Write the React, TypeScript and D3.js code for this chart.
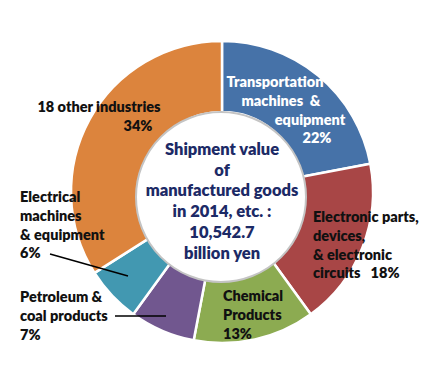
import React, { useMemo } from 'react'
import * as d3 from 'd3'

// Shipment value of manufactured goods 2014 (share, %)
const categories = [
    'Transportation machines & equipment',
    'Electronic parts, devices, & electronic circuits',
    'Chemical Products',
    'Petroleum & coal products',
    'Electrical machines & equipment',
    '18 other industries',
]
const shares = [22, 18, 13, 7, 6, 34]
const colors = ['#4672a8', '#a84646', '#8cab51', '#71578f', '#4298b1', '#dc843d']

// label lines as printed on the chart
const labelLines = [
    ['Transportation', 'machines  &', 'equipment', '22%'],
    ['Electronic parts,', 'devices,', '& electronic', 'circuits   18%'],
    ['Chemical', 'Products', '13%'],
    ['Petroleum &', 'coal products', '7%'],
    ['Electrical', 'machines', '& equipment', '6%'],
    ['18 other industries', '34%'],
]
const centerLines = ['Shipment value', 'of', 'manufactured goods', 'in 2014, etc. :', '10,542.7', 'billion yen']

// label placement (x per line, first baseline, anchor, colour)
const labelPos = [
    { xs: [275, 281, 310, 317], y: 87, anchor: 'middle', fill: '#ffffff' },
    { xs: [313, 313, 313, 313], y: 222, anchor: 'start', fill: '#111' },
    { xs: [223, 223, 223], y: 301, anchor: 'start', fill: '#111' },
    { xs: [20, 20, 20], y: 302, anchor: 'start', fill: '#111' },
    { xs: [20, 20, 20, 20], y: 202, anchor: 'start', fill: '#111' },
    { xs: [99, 138], y: 112, anchor: 'middle', fill: '#111' },
]
const leaders = [
    { idx: 3, x1: 115, y1: 316, x2: 166, y2: 316 },
    { idx: 4, x1: 50, y1: 254, x2: 128, y2: 276 },
]

const W = 439
const H = 392
const cx = 222
const cy = 192
const outerR = 151
const innerR = 80

export default function App() {
    const arcs = useMemo(() => {
        const pie = d3.pie<number>().sort(null).startAngle(0).endAngle(2 * Math.PI)
        return pie(shares)
    }, [])
    const arc = d3.arc<d3.PieArcDatum<number>>().innerRadius(innerR).outerRadius(outerR)

    return (
        <svg width={W} height={H} style={{ position: 'absolute', left: 0, top: 0, fontFamily: 'Lato, "Open Sans", sans-serif', fontWeight: 800 }}>
            <rect width={W} height={H} fill="#fff" />
            <g transform={`translate(${cx},${cy})`}>
                {arcs.map((a, i) => (
                    <path key={categories[i]} d={arc(a) || ''} fill={colors[i]} stroke="#fff" strokeWidth={2.5} />
                ))}
            </g>
            <circle cx={221} cy={197} r={85} fill="#fff" stroke="#c4c4c4" strokeWidth={2} />
            {centerLines.map((t, i) => (
                <text key={t} x={222} y={155 + i * 20.7} textAnchor="middle" fontSize={16.5} fill="#1c2a66">{t}</text>
            ))}
            {leaders.map(l => (
                <line key={l.idx} x1={l.x1} y1={l.y1} x2={l.x2} y2={l.y2} stroke="#000" strokeWidth={1.5} />
            ))}
            {labelLines.map((lines, i) => (
                <g key={categories[i]}>
                    {lines.map((t, j) => (
                        <text key={j} x={labelPos[i].xs[j]} y={labelPos[i].y + j * 18.8} textAnchor={labelPos[i].anchor} fontSize={14.5} fill={labelPos[i].fill} style={{ whiteSpace: 'pre' }}>{t}</text>
                    ))}
                </g>
            ))}
        </svg>
    )
}
